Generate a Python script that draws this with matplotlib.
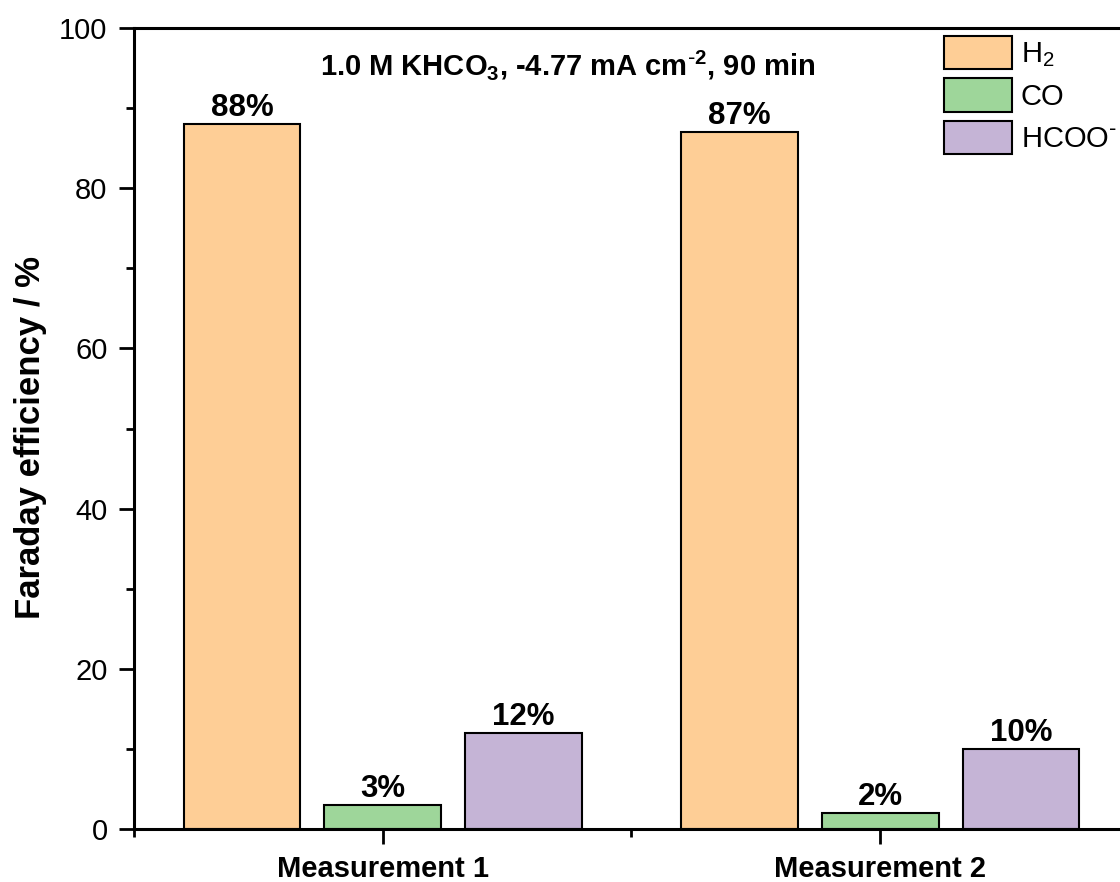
import matplotlib
matplotlib.use("Agg")
import matplotlib.pyplot as plt
import numpy as np
from matplotlib.ticker import MultipleLocator, FixedLocator

plt.rcParams['font.family'] = ['Liberation Sans', 'DejaVu Sans']
plt.rcParams['mathtext.default'] = 'regular'

categories = ["Measurement 1", "Measurement 2"]
series_names = ["H$_2$", "CO", r"HCOO$^{\text{-}}$"]
h2_values = [88, 87]
co_values = [3, 2]
hcoo_values = [12, 10]
colors = ["#FECE96", "#9ED69A", "#C5B4D6"]
title_text = r"1.0 M KHCO$_3$, -4.77 mA cm$^{\text{-}2}$, 90 min"

fig = plt.figure(figsize=(11.2, 8.82), dpi=100)
ax = fig.add_axes([134/1120, 1-829/882, 995/1120, (829-28)/882])

x = np.arange(1, len(categories)+1)
width = 0.235
offset = 0.283
all_series = [h2_values, co_values, hcoo_values]
for i, (vals, name, col) in enumerate(zip(all_series, series_names, colors)):
    pos = x + (i-1)*offset
    bars = ax.bar(pos, vals, width, color=col, edgecolor='black', linewidth=1.5, label=name)
    for b, v in zip(bars, vals):
        ax.annotate(f"{v}%", (b.get_x()+b.get_width()/2, v), xytext=(0, 6),
                    textcoords='offset points', ha='center', va='baseline',
                    fontsize=22.5, fontweight='bold')

ax.set_xlim(0.5, 2.5)
ax.set_ylim(0, 100)
ax.set_xticks(x)
ax.set_xticklabels(categories, fontsize=23, fontweight='bold')
ax.xaxis.set_minor_locator(FixedLocator([0.5, 1.5, 2.5]))
ax.yaxis.set_major_locator(MultipleLocator(20))
ax.yaxis.set_minor_locator(MultipleLocator(10))
ax.tick_params(axis='both', which='major', length=11, width=2, direction='out', labelsize=21, pad=8)
ax.tick_params(axis='both', which='minor', length=5.5, width=2, direction='out')
ax.tick_params(axis='x', which='major', pad=8)
for s in ax.spines.values():
    s.set_linewidth(2.2)

ax.set_ylabel("Faraday efficiency / %", fontsize=25, fontweight='bold', labelpad=9)
ax.yaxis.label.set_y(0.489)

ax.text(0.436, 0.941, title_text, transform=ax.transAxes,
        fontsize=21, fontweight='bold', ha='center', va='baseline')

leg = ax.legend(loc='upper left', bbox_to_anchor=(944/1120, 1-36/882),
                bbox_transform=fig.transFigure, frameon=False, fontsize=21,
                handlelength=2.33, handleheight=1.37, handletextpad=0.3,
                labelspacing=0.32, borderpad=0, borderaxespad=0)

fig.savefig("out.png", dpi=100)
